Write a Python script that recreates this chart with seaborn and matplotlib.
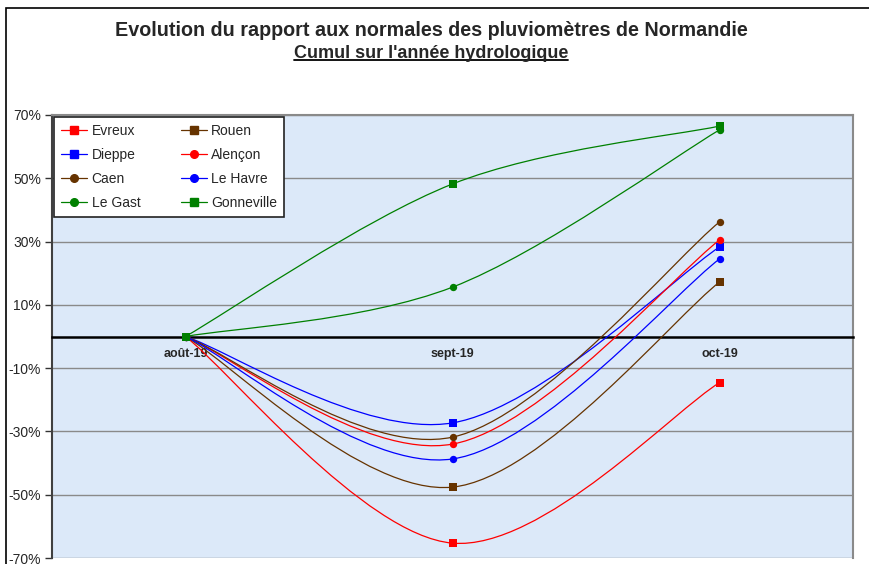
import numpy as np
import pandas as pd
import seaborn as sns
import matplotlib.pyplot as plt
from matplotlib.path import Path
from matplotlib.patches import PathPatch, Rectangle
from matplotlib.lines import Line2D

mois = ['août-19', 'sept-19', 'oct-19']
stations = ['Evreux', 'Rouen', 'Dieppe', 'Alençon', 'Caen', 'Le Havre', 'Le Gast', 'Gonneville']

# rapport aux normales (%), cumul sur l'année hydrologique
evreux = [0, -65.3, -14.6]
rouen = [0, -47.6, 17.2]
dieppe = [0, -27.3, 28.3]
alencon = [0, -34.0, 30.5]
caen = [0, -31.8, 36.2]
le_havre = [0, -38.7, 24.5]
le_gast = [0, 15.6, 65.3]
gonneville = [0, 48.2, 66.5]

valeurs = [evreux, rouen, dieppe, alencon, caen, le_havre, le_gast, gonneville]
couleurs = ['#ff0000', '#663300', '#0000ff', '#ff0000', '#663300', '#0000ff', '#008000', '#008000']
marqueurs = ['s', 's', 's', 'o', 'o', 'o', 'o', 's']

rows = []
for st, vals in zip(stations, valeurs):
    for i, (m, v) in enumerate(zip(mois, vals)):
        rows.append({'station': st, 'mois': m, 'pos': i + 0.5, 'valeur': v})
df = pd.DataFrame(rows)

sns.set_style('white')
plt.rcParams['font.family'] = ['Liberation Sans', 'DejaVu Sans']

fig = plt.figure(figsize=(8.69, 5.64), dpi=100)
ax = fig.add_axes([52 / 869, 1 - 558 / 564, 801 / 869, 443 / 564])
ax.set_facecolor('#dce9f9')

# cadre du graphique
fig.patches.append(Rectangle((6 / 869, -0.1), 1.2, 1 - 8 / 564 + 0.1, transform=fig.transFigure,
                             fill=False, edgecolor='black', lw=1.2))


def courbe(xs, ys):
    # lissage type Excel (Bezier / Catmull-Rom)
    pts = np.column_stack([xs, ys]).astype(float)
    ext = np.vstack([pts[0], pts, pts[-1]])
    verts = [pts[0]]
    codes = [Path.MOVETO]
    for i in range(len(pts) - 1):
        p0, p1, p2, p3 = ext[i], ext[i + 1], ext[i + 2], ext[i + 3]
        verts += [p1 + (p2 - p0) / 6, p2 - (p3 - p1) / 6, p2]
        codes += [Path.CURVE4] * 3
    return Path(verts, codes)


handles = {}
for st, c, mk in zip(stations, couleurs, marqueurs):
    d = df[df['station'] == st]
    ax.add_patch(PathPatch(courbe(d['pos'], d['valeur']), fill=False, edgecolor=c, lw=0.9, zorder=3))
    sns.scatterplot(data=d, x='pos', y='valeur', marker=mk, color=c, s=28, edgecolor=c,
                    linewidth=0, ax=ax, zorder=4, legend=False)
    handles[st] = Line2D([], [], color=c, marker=mk, markersize=5.5, lw=0.9, label=st)

# axe des abscisses sur la ligne 0 (avant de régler les ticks : set_position les réinitialise)
ax.spines['bottom'].set_position(('data', 0))
ax.spines['bottom'].set_color('black')
ax.spines['bottom'].set_linewidth(1.8)
ax.spines['bottom'].set_zorder(2.5)
ax.spines['left'].set_color('#404040')
ax.spines['left'].set_linewidth(1.5)
for s in ['top', 'right']:
    ax.spines[s].set_color('#8a8a8a')
    ax.spines[s].set_linewidth(1.5)

ax.set_xlim(0, 3)
ax.set_ylim(-70, 70)
ax.set_xlabel('')
ax.set_ylabel('')

ax.set_yticks(range(-70, 71, 20))
ax.set_yticklabels([f'{v}%' for v in range(-70, 71, 20)], fontsize=10)
ax.yaxis.grid(True, color='#8a8a8a', lw=1)
ax.set_axisbelow(True)

ax.set_xticks([0.5, 1.5, 2.5])
ax.set_xticklabels(mois, fontsize=9, fontweight='bold')
ax.set_xticks([1, 2], minor=True)
ax.tick_params(axis='x', which='major', length=0, pad=8)
ax.tick_params(axis='x', which='minor', length=4, direction='in', width=1.2, color='black')
ax.tick_params(axis='y', length=5, direction='out', width=1, color='#333333', left=True, pad=3)

# ordre ligne par ligne comme dans Excel
ordre = ['Evreux', 'Dieppe', 'Caen', 'Le Gast', 'Rouen', 'Alençon', 'Le Havre', 'Gonneville']
leg = ax.legend(handles=[handles[s] for s in ordre], ncol=2, loc='upper left',
                bbox_to_anchor=(0.0025, 0.9955), borderaxespad=0, fontsize=10, frameon=True,
                fancybox=False, framealpha=1, edgecolor='#222222', handlelength=1.9,
                handletextpad=0.3, columnspacing=2.9, labelspacing=0.72, borderpad=0.5)
leg.get_frame().set_linewidth(1.2)
leg.set_zorder(5)

fig.text(431 / 869, 1 - 30 / 564, 'Evolution du rapport aux normales des pluviomètres de Normandie',
         ha='center', va='center', fontsize=14.2, fontweight='bold')
sub = fig.text(431 / 869, 1 - 53 / 564, "Cumul sur l'année hydrologique",
               ha='center', va='center', fontsize=13, fontweight='bold')

fig.canvas.draw()
bb = sub.get_window_extent().transformed(fig.transFigure.inverted())
fig.add_artist(Line2D([bb.x0, bb.x1], [bb.y0 + 0.002, bb.y0 + 0.002], color='black', lw=1.3,
                      transform=fig.transFigure))

fig.savefig('out.png', dpi=100)
